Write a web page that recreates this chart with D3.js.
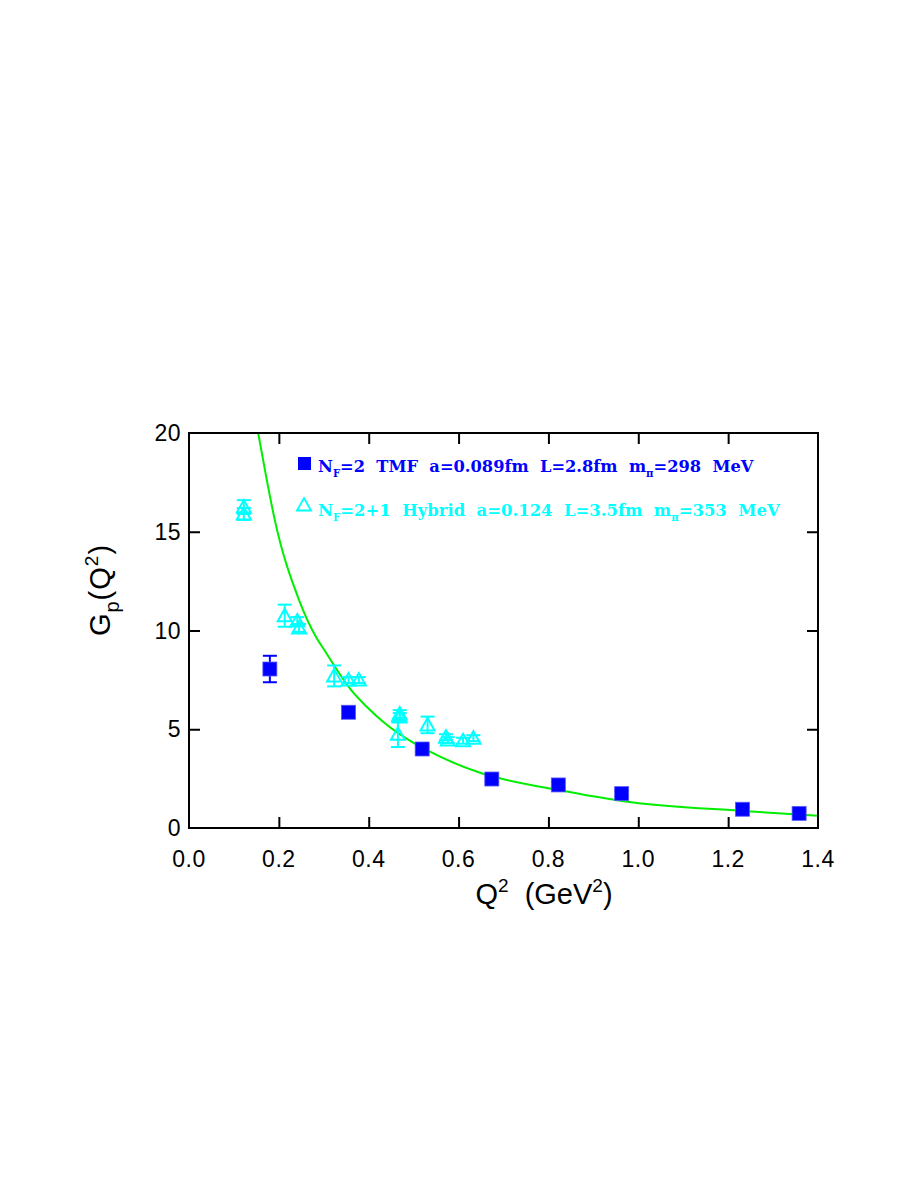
<!DOCTYPE html>
<html><head><meta charset="utf-8">
<script src="https://d3js.org/d3.v7.min.js"></script>
<style>body{margin:0;background:#fff}svg{display:block}</style>
</head><body>
<svg id="c" width="913" height="1182"></svg>
<script>
// ---- data ----
const xTicks = [0.0,0.2,0.4,0.6,0.8,1.0,1.2,1.4];
const xTickLabels = ["0.0","0.2","0.4","0.6","0.8","1.0","1.2","1.4"];
const yTicks = [0,5,10,15,20];
const yTickLabels = ["0","5","10","15","20"];
// Nf=2 TMF (blue squares)
const tmfQ2  = [0.180,0.355,0.519,0.674,0.822,0.963,1.232,1.358];
const tmfG   = [8.05,5.86,4.00,2.48,2.18,1.74,0.95,0.74];
const tmfErr = [0.67,0.28,0.15,0.15,0.15,0.15,0.12,0.12];
// Nf=2+1 Hybrid (cyan triangles)
const hybQ2  = [0.122,0.122,0.213,0.241,0.245,0.323,0.355,0.378,0.469,0.469,0.465,0.531,0.572,0.576,0.610,0.633];
const hybG   = [16.25,15.90,10.75,10.48,10.13,7.70,7.49,7.49,5.77,5.62,4.75,5.22,4.60,4.45,4.42,4.55];
const hybErr = [0.35,0.30,0.56,0.20,0.20,0.53,0.15,0.15,0.20,0.20,0.65,0.42,0.15,0.15,0.15,0.15];
// fit curve
const fitQ2 = [0.154,0.169,0.191,0.245,0.284,0.303,0.321,0.362,0.395,0.436,0.499,0.533,0.648,0.692,0.822,0.963,1.232,1.400];
const fitG  = [20.0,18.13,15.59,11.54,9.62,8.95,8.30,6.95,6.15,5.30,4.32,3.90,2.80,2.52,1.92,1.37,0.86,0.62];
// ---- chart ----
const svg = d3.select("#c");
const L=189, R=818, T=433, B=828;
const x = d3.scaleLinear().domain([0,1.4]).range([L,R]);
const y = d3.scaleLinear().domain([0,20]).range([B,T]);
const BLUE="#0000ff", CYAN="#00ffff", GREEN="#00ee00";
const sans = "'Liberation Sans', Arial, sans-serif";
const serif = "'DejaVu Serif', 'Liberation Serif', serif";

const plot = svg.append("g");
svg.append("clipPath").attr("id","clip").append("rect").attr("x",L).attr("y",T).attr("width",R-L).attr("height",B-T);
const fit = fitQ2.map((q,i)=>[q,fitG[i]]);
plot.append("path").attr("clip-path","url(#clip)")
  .attr("d", d3.line().x(d=>x(d[0])).y(d=>y(d[1])).curve(d3.curveMonotoneX)(fit))
  .attr("fill","none").attr("stroke",GREEN).attr("stroke-width",2);

function errbars(qs,gs,es,col){
  const g = plot.append("g").attr("stroke",col).attr("stroke-width",2);
  qs.forEach((q,i)=>{
    const cx=x(q), y1=y(gs[i]+es[i]), y2=y(gs[i]-es[i]);
    g.append("line").attr("x1",cx).attr("x2",cx).attr("y1",y1).attr("y2",y2);
    g.append("line").attr("x1",cx-7).attr("x2",cx+7).attr("y1",y1).attr("y2",y1);
    g.append("line").attr("x1",cx-7).attr("x2",cx+7).attr("y1",y2).attr("y2",y2);
  });
}
errbars(hybQ2,hybG,hybErr,CYAN);
errbars(tmfQ2,tmfG,tmfErr,BLUE);

const tri = (cx,cy)=>`M${cx},${cy-7}L${cx+7},${cy+5.5}L${cx-7},${cy+5.5}Z`;
plot.append("g").selectAll("path").data(hybQ2).join("path")
  .attr("d",(q,i)=>tri(x(q),y(hybG[i])))
  .attr("fill","none").attr("stroke",CYAN).attr("stroke-width",2);
plot.append("g").selectAll("rect").data(tmfQ2).join("rect")
  .attr("x",q=>x(q)-7).attr("y",(q,i)=>y(tmfG[i])-7).attr("width",14).attr("height",14)
  .attr("fill",BLUE).attr("stroke","#5a5aff").attr("stroke-width",0.8);

// frame
const ax = svg.append("g").attr("stroke","#000").attr("stroke-width",2).attr("fill","none");
ax.append("rect").attr("x",L).attr("y",T).attr("width",R-L).attr("height",B-T);
const xb = svg.append("g").attr("transform",`translate(0,${B})`)
  .call(d3.axisTop(x).tickValues(xTicks.slice(1,-1)).tickSize(11).tickFormat(""));
const xt = svg.append("g").attr("transform",`translate(0,${T})`)
  .call(d3.axisBottom(x).tickValues(xTicks.slice(1,-1)).tickSize(11).tickFormat(""));
const yl = svg.append("g").attr("transform",`translate(${L},0)`)
  .call(d3.axisRight(y).tickValues(yTicks.slice(1,-1)).tickSize(11).tickFormat(""));
const yr = svg.append("g").attr("transform",`translate(${R},0)`)
  .call(d3.axisLeft(y).tickValues(yTicks.slice(1,-1)).tickSize(11).tickFormat(""));
[xb,xt,yl,yr].forEach(g=>{g.select(".domain").remove();g.selectAll("line").attr("stroke","#000").attr("stroke-width",2);});

// tick labels
svg.append("g").selectAll("text").data(xTicks).join("text")
  .attr("x",d=>x(d)).attr("y",867).attr("text-anchor","middle")
  .attr("font-family",sans).attr("font-size",23).attr("letter-spacing",0.5).text((d,i)=>xTickLabels[i]);
svg.append("g").selectAll("text").data(yTicks).join("text")
  .attr("x",181).attr("y",d=>y(d)+8).attr("text-anchor","end")
  .attr("font-family",sans).attr("font-size",23).attr("letter-spacing",0.5).text((d,i)=>yTickLabels[i]);

// axis titles
const xtitle = svg.append("text").attr("x",544).attr("y",904).attr("text-anchor","middle")
  .attr("font-family",sans).attr("font-size",29).attr("xml:space","preserve");
xtitle.append("tspan").text("Q");
xtitle.append("tspan").attr("font-size",19).attr("dy",-12).text("2");
xtitle.append("tspan").attr("dy",12).text("  (GeV");
xtitle.append("tspan").attr("font-size",19).attr("dy",-12).text("2");
xtitle.append("tspan").attr("dy",12).text(")");

const ytitle = svg.append("text").attr("transform","translate(110,590) rotate(-90)").attr("text-anchor","middle")
  .attr("font-family",sans).attr("font-size",29).attr("letter-spacing",1);
ytitle.append("tspan").text("G");
ytitle.append("tspan").attr("font-size",20).attr("dy",9).text("p");
ytitle.append("tspan").attr("dy",-9).text("(Q");
ytitle.append("tspan").attr("font-size",19).attr("dy",-12).text("2");
ytitle.append("tspan").attr("dy",12).text(")");

// legend
function legendText(yb,col,parts,targetW){
  const t = svg.append("text").attr("x",318).attr("y",yb).attr("fill",col)
    .attr("font-family",serif).attr("font-weight","bold").attr("xml:space","preserve");
  parts.forEach(p=>{
    const s=t.append("tspan").text(p[0]).attr("font-size",p[2]?p[2]:16);
    if(p[1]) s.attr("dy",p[1]);
  });
  const w = t.node().getComputedTextLength();
  const k = targetW/w;
  t.selectAll("tspan").each(function(){const fs=+d3.select(this).attr("font-size");d3.select(this).attr("font-size",fs*k);});
}
svg.append("rect").attr("x",298).attr("y",457).attr("width",13).attr("height",13).attr("fill",BLUE);
legendText(472,BLUE,[["N"],["F",5,10],["=2  TMF  a=0.089fm  L=2.8fm  m",-5],["π",5,10],["=298  MeV",-5]],436);
svg.append("path").attr("d",tri(304,505)).attr("fill","none").attr("stroke",CYAN).attr("stroke-width",1.8);
legendText(516,CYAN,[["N"],["F",5,10],["=2+1  Hybrid  a=0.124  L=3.5fm  m",-5],["π",5,10],["=353  MeV",-5]],462);
</script>
</body></html>
